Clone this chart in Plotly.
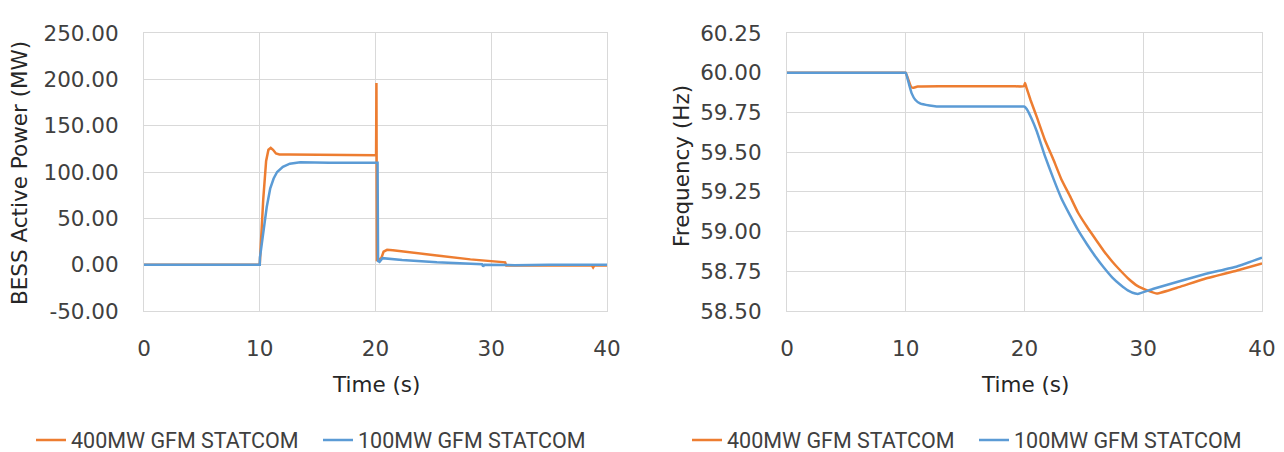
import plotly.graph_objects as go

# ---------------- data ----------------
# Left: BESS active power (MW)
t_p400 = [0, 10.0, 10.05, 10.3, 10.55, 10.75, 10.95, 11.15, 11.4, 11.7, 12.5, 15, 18, 20.05,
          20.08, 20.12, 20.2, 20.5, 20.7, 21.0, 21.5, 23.0, 25.3, 28.2, 31.2, 31.3, 35, 38.7,
          38.8, 38.9, 40]
p400 = [0, 0, 12, 70, 112, 124, 126, 124, 120, 119, 119, 118.5, 118.5, 118,
        196, 5, 5, 7, 14, 16, 15.5, 13.5, 10, 5.7, 2.5, -1, -1, -1,
        -3, -1, -1]

t_p100 = [0, 10.0, 10.02, 10.3, 10.6, 10.9, 11.2, 11.5, 12.0, 12.6, 13.5, 16, 20.1, 20.18,
          20.22, 20.35, 20.6, 22.3, 25.3, 28.0, 29.2, 29.3, 29.4, 32, 35, 40]
p100 = [0, 0, 8, 35, 62, 82, 93, 100, 105.5, 109, 110.5, 110, 109.5, 110,
        4, 3, 7, 5, 2.5, 1, 0.5, -2, 0, -0.5, 0, 0]

# Right: frequency (Hz)
t_f400 = [0, 3, 6, 9, 9.9, 10, 10.2, 10.45, 10.6, 11, 13, 15, 17, 19, 19.95, 20.05, 20.15, 20.5,
          21.04, 21.7, 22.45, 23.1, 23.85, 24.5, 25.26, 26.0, 26.66, 27.4, 28.07, 28.8, 29.47,
          30.5, 31.15, 33, 35.07, 37.9, 40]
f400 = [60, 60, 60, 60, 60, 60, 59.96, 59.91, 59.905, 59.913, 59.915, 59.915, 59.915, 59.915,
        59.915, 59.935, 59.91, 59.83, 59.72, 59.58, 59.45, 59.33, 59.22, 59.12, 59.03, 58.95,
        58.88, 58.81, 58.755, 58.70, 58.66, 58.625, 58.61, 58.65, 58.70, 58.755, 58.80]

t_f100 = [0, 3, 6, 9, 9.9, 10, 10.3, 10.5, 10.8, 11.2, 12, 12.6, 14, 16, 18, 19.9, 20, 20.2,
          20.6, 21.04, 21.7, 22.45, 23.1, 23.85, 24.5, 25.26, 26.0, 26.66, 27.4, 28.07, 28.7,
          29.33, 29.6, 30.87, 35.07, 37.9, 40]
f100 = [60, 60, 60, 60, 60, 60, 59.92, 59.87, 59.83, 59.807, 59.793, 59.787, 59.787, 59.787,
        59.787, 59.787, 59.787, 59.77, 59.71, 59.63, 59.48, 59.33, 59.21, 59.10, 59.01, 58.92,
        58.84, 58.775, 58.71, 58.665, 58.63, 58.61, 58.608, 58.64, 58.73, 58.78, 58.835]

x_ticks = [0, 10, 20, 30, 40]
p_ticks = [-50, 0, 50, 100, 150, 200, 250]
f_ticks = [58.50, 58.75, 59.00, 59.25, 59.50, 59.75, 60.00, 60.25]

names = ["400MW GFM STATCOM", "100MW GFM STATCOM"]
colors = ["#ED7D31", "#5B9BD5"]

# ---------------- figure ----------------
W, H = 1284, 452
FONT = "DejaVu Sans"
LEGFONT = "Roboto"
TICKC = "#404040"
TITLEC = "#262626"
GRID = "#D9D9D9"

fig = go.Figure()
fig.add_trace(go.Scatter(x=t_p400, y=p400, mode="lines", name=names[0],
                         line=dict(color=colors[0], width=2.5), xaxis="x", yaxis="y", legend="legend"))
fig.add_trace(go.Scatter(x=t_p100, y=p100, mode="lines", name=names[1],
                         line=dict(color=colors[1], width=2.5), xaxis="x", yaxis="y", legend="legend"))
fig.add_trace(go.Scatter(x=t_f400, y=f400, mode="lines", name=names[0],
                         line=dict(color=colors[0], width=2.5, shape="spline", smoothing=0.4),
                         xaxis="x2", yaxis="y2", legend="legend2"))
fig.add_trace(go.Scatter(x=t_f100, y=f100, mode="lines", name=names[1],
                         line=dict(color=colors[1], width=2.5, shape="spline", smoothing=0.4),
                         xaxis="x2", yaxis="y2", legend="legend2"))

def px_x(p):
    return p / W

def px_y(p):
    return 1 - p / H

top, bot = 33, 311
common_x = dict(range=[0, 40], tickvals=x_ticks, ticktext=[str(v) for v in x_ticks],
                showgrid=True, gridcolor=GRID, gridwidth=1, zeroline=False,
                showline=True, linecolor=GRID, linewidth=1, mirror=True,
                ticks="outside", ticklen=18, tickcolor="rgba(0,0,0,0)",
                tickfont=dict(family=FONT, size=21.5, color=TICKC), fixedrange=True)
common_y = dict(showgrid=True, gridcolor=GRID, gridwidth=1, zeroline=False,
                showline=True, linecolor=GRID, linewidth=1, mirror=True,
                ticks="outside", ticklen=20, tickcolor="rgba(0,0,0,0)",
                tickfont=dict(family=FONT, size=21.5, color=TICKC), fixedrange=True)

leg_common = dict(orientation="h", yanchor="middle",
                  font=dict(family=LEGFONT, size=21.5, color=TICKC),
                  entrywidth=242, entrywidthmode="pixels", bgcolor="rgba(0,0,0,0)", borderwidth=0,
                  itemclick=False, itemdoubleclick=False)

fig.update_layout(
    width=W, height=H,
    margin=dict(l=0, r=0, t=0, b=0, autoexpand=False),
    paper_bgcolor="white", plot_bgcolor="white",
    xaxis=dict(domain=[px_x(144), px_x(607)], anchor="y", **common_x),
    yaxis=dict(domain=[px_y(bot), px_y(top)], anchor="x", range=[-50, 250], tickvals=p_ticks,
               ticktext=[f"{v:.2f}" for v in p_ticks], **common_y),
    xaxis2=dict(domain=[px_x(787), px_x(1262)], anchor="y2", **common_x),
    yaxis2=dict(domain=[px_y(bot), px_y(top)], anchor="x2", range=[58.5, 60.25], tickvals=f_ticks,
                ticktext=[f"{v:.2f}" for v in f_ticks], **common_y),
    legend=dict(x=px_x(31), xanchor="left", y=px_y(440), **leg_common),
    legend2=dict(x=px_x(687), xanchor="left", y=px_y(440), **leg_common),
    showlegend=True,
)

title_font = dict(family=FONT, size=21.5, color=TITLEC)
annotations = [
    dict(text="Time (s)", x=(px_x(144) + px_x(607)) / 2, y=px_y(384), xref="paper", yref="paper",
         showarrow=False, font=title_font, xanchor="center", yanchor="middle"),
    dict(text="Time (s)", x=(px_x(787) + px_x(1262)) / 2, y=px_y(384), xref="paper", yref="paper",
         showarrow=False, font=title_font, xanchor="center", yanchor="middle"),
    dict(text="BESS Active Power (MW)", x=px_x(19), y=px_y(173), xref="paper", yref="paper",
         showarrow=False, font=title_font, textangle=-90, xanchor="center", yanchor="middle"),
    dict(text="Frequency (Hz)", x=px_x(681), y=px_y(166), xref="paper", yref="paper",
         showarrow=False, font=title_font, textangle=-90, xanchor="center", yanchor="middle"),
]
fig.update_layout(annotations=annotations)

fig.write_html("out.html", config={"displayModeBar": False})
